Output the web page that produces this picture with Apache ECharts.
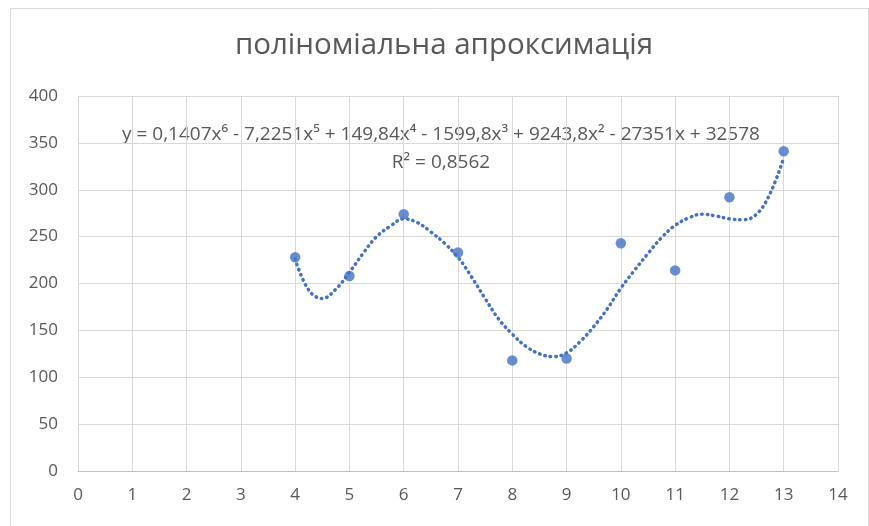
<!DOCTYPE html>
<html>
<head>
<meta charset="utf-8">
<script src="https://cdn.jsdelivr.net/npm/echarts@6/dist/echarts.min.js"></script>
<style>
html,body{margin:0;padding:0;background:#fff;}
#chart{width:869px;height:526px;}
</style>
</head>
<body>
<div id="chart"></div>
<script>
// Observed data points
const xValues = [4, 5, 6, 7, 8, 9, 10, 11, 12, 13];
const yValues = [228, 208, 274, 233, 118, 120, 243, 214, 292, 341];

// Trend line (polynomial, order 6)
const trendX = [4, 4.25, 4.5, 4.75, 5, 5.25, 5.5, 5.75, 6, 6.25, 6.5, 6.75, 7, 7.25, 7.5, 7.75, 8, 8.25, 8.5, 8.75, 9, 9.25, 9.5, 9.75, 10, 10.25, 10.5, 10.75, 11, 11.25, 11.5, 11.75, 12, 12.25, 12.5, 12.75, 13];
const trendY = [226, 193, 184, 194, 212, 232, 250, 261, 269, 265, 255, 243, 228, 207, 184, 162, 146, 133, 125, 122, 126, 138, 154, 173, 195, 214, 232, 249, 262, 270, 274, 272, 269, 268, 274, 296, 334];

const titleText = 'поліноміальна апроксимація';
const equationText = 'y = 0,1407x⁶ - 7,2251x⁵ + 149,84x⁴ - 1599,8x³ + 9243,8x² - 27351x + 32578';
const r2Text = 'R² = 0,8562';

const blue = '#4472C4';
const textGray = '#595959';
const fontFam = '"Open Sans", sans-serif';

const chart = echarts.init(document.getElementById('chart'), null, {renderer: 'canvas'});
chart.setOption({
  backgroundColor: '#fff',
  animation: false,
  grid: {left: 78, right: 31, top: 96, bottom: 55},
  xAxis: {
    type: 'value', min: 0, max: 14, interval: 1,
    axisLine: {show: true, lineStyle: {color: '#bfbfbf'}},
    axisTick: {show: false},
    splitLine: {show: true, lineStyle: {color: '#d9d9d9'}},
    axisLabel: {color: textGray, fontSize: 17, margin: 16, fontFamily: fontFam}
  },
  yAxis: {
    type: 'value', min: 0, max: 400, interval: 50,
    axisLine: {show: false},
    axisTick: {show: false},
    splitLine: {show: true, lineStyle: {color: '#d9d9d9'}},
    axisLabel: {color: textGray, fontSize: 17, margin: 20, fontFamily: fontFam}
  },
  graphic: [
    {type: 'rect', left: 8, top: 6, shape: {width: 858, height: 530}, style: {fill: 'none', stroke: '#d9d9d9', lineWidth: 1}, silent: true},
    {type: 'text', x: 444, y: 31, style: {text: titleText, fill: textGray, fontSize: 29.5, fontFamily: fontFam, textAlign: 'center', textVerticalAlign: 'top'}},
    {type: 'text', x: 441, y: 125, style: {text: equationText, fill: textGray, fontSize: 19, fontFamily: fontFam, textAlign: 'center', textVerticalAlign: 'top'}},
    {type: 'text', x: 441, y: 153, style: {text: r2Text, fill: textGray, fontSize: 19, fontFamily: fontFam, textAlign: 'center', textVerticalAlign: 'top'}}
  ],
  series: [
    {
      type: 'line',
      data: trendX.map((x, i) => [x, trendY[i]]),
      smooth: 0.4,
      showSymbol: false,
      lineStyle: {color: blue, width: 3.5, type: [0.5, 5], cap: 'round'},
      z: 2
    },
    {
      type: 'scatter',
      data: xValues.map((x, i) => [x, yValues[i]]),
      symbol: 'circle',
      symbolSize: 10.5,
      itemStyle: {color: blue},
      z: 3
    }
  ]
});
</script>
</body>
</html>
